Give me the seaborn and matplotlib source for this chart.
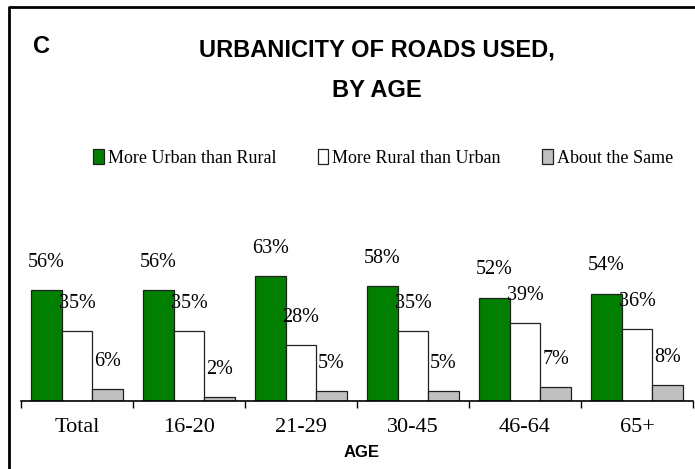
import matplotlib
matplotlib.use("Agg")
import matplotlib.pyplot as plt
from matplotlib import font_manager
from matplotlib.lines import Line2D
from matplotlib.ticker import FixedLocator
import pandas as pd
import seaborn as sns

# data
AGE_GROUPS = ["Total", "16-20", "21-29", "30-45", "46-64", "65+"]
CATEGORIES = ["More Urban than Rural", "More Rural than Urban", "About the Same"]
URBAN = [56, 56, 63, 58, 52, 54]
RURAL = [35, 35, 28, 35, 39, 36]
SAME = [6, 2, 5, 5, 7, 8]
COLORS = ["#007F00", "#FFFFFF", "#C0C0C0"]

df = pd.DataFrame({
    "age": AGE_GROUPS * 3,
    "category": [CATEGORIES[0]] * 6 + [CATEGORIES[1]] * 6 + [CATEGORIES[2]] * 6,
    "pct": URBAN + RURAL + SAME,
})

sns.set_theme(style="white")
plt.rcParams["font.family"] = ["Liberation Serif", "DejaVu Serif"]
plt.rcParams["text.color"] = "black"
plt.rcParams["xtick.color"] = "black"
plt.rcParams["axes.labelcolor"] = "black"

names = {f.name for f in font_manager.fontManager.ttflist}
if "Liberation Sans Narrow" in names:
    TITLE_FONT, TITLE_SIZE = "Liberation Sans Narrow", 21
else:
    TITLE_FONT, TITLE_SIZE = "Liberation Sans", 17

fig = plt.figure(figsize=(6.95, 4.69), dpi=100)
fig.patch.set_facecolor("white")
ax = fig.add_axes([21 / 695, 68 / 469, 672 / 695, 199 / 469])

sns.barplot(
    data=df, x="age", y="pct", hue="category", order=AGE_GROUPS,
    hue_order=CATEGORIES, palette=COLORS, width=0.82, saturation=1,
    edgecolor="#202020", linewidth=0.9, ax=ax, legend=True,
)

for cont in ax.containers:
    ax.bar_label(cont, fmt="{:.0f}%", padding=13, fontsize=14.5)

ax.set_xlim(-0.5, 5.5)
ax.set_ylim(0, 100)
ax.set_xlabel("")
ax.set_ylabel("")
ax.set_yticks([])
ax.set_xticks(range(6))
ax.set_xticklabels(AGE_GROUPS, fontsize=16)
ax.xaxis.set_minor_locator(FixedLocator([i - 0.5 for i in range(7)]))
ax.tick_params(axis="x", which="major", length=0, pad=12)
ax.tick_params(axis="x", which="minor", length=5, width=1, color="black",
               direction="out", bottom=True)
for side in ["top", "left", "right"]:
    ax.spines[side].set_visible(False)
ax.spines["bottom"].set_color("black")
ax.spines["bottom"].set_linewidth(1.2)
ax.patch.set_alpha(0)

handles, labels = ax.get_legend_handles_labels()
ax.get_legend().remove()
fig.legend(handles, labels, loc="center", bbox_to_anchor=(383 / 695, 1 - 158 / 469),
           ncol=3, frameon=False, fontsize=13, handlelength=0.6, handleheight=0.9,
           handletextpad=0.2, columnspacing=2.3)

# titles
fig.text(377 / 695, 1 - 56 / 469, "URBANICITY OF ROADS USED,", ha="center",
         va="baseline", fontsize=TITLE_SIZE, fontweight="bold", family=TITLE_FONT)
fig.text(377 / 695, 1 - 97 / 469, "BY AGE", ha="center", va="baseline",
         fontsize=TITLE_SIZE, fontweight="bold", family=TITLE_FONT)
fig.text(33 / 695, 1 - 53 / 469, "C", ha="left", va="baseline",
         fontsize=TITLE_SIZE, fontweight="bold", family=TITLE_FONT)
fig.text(362 / 695, 1 - 457 / 469, "AGE", ha="center", va="baseline",
         fontsize=12, fontweight="bold", family="Liberation Sans")

# outer frame (clipped at right and bottom)
fig.add_artist(Line2D([9 / 695, 9 / 695, 1], [0, 1 - 7 / 469, 1 - 7 / 469],
                      transform=fig.transFigure, color="black", lw=2))

fig.savefig("out.png", dpi=100)
